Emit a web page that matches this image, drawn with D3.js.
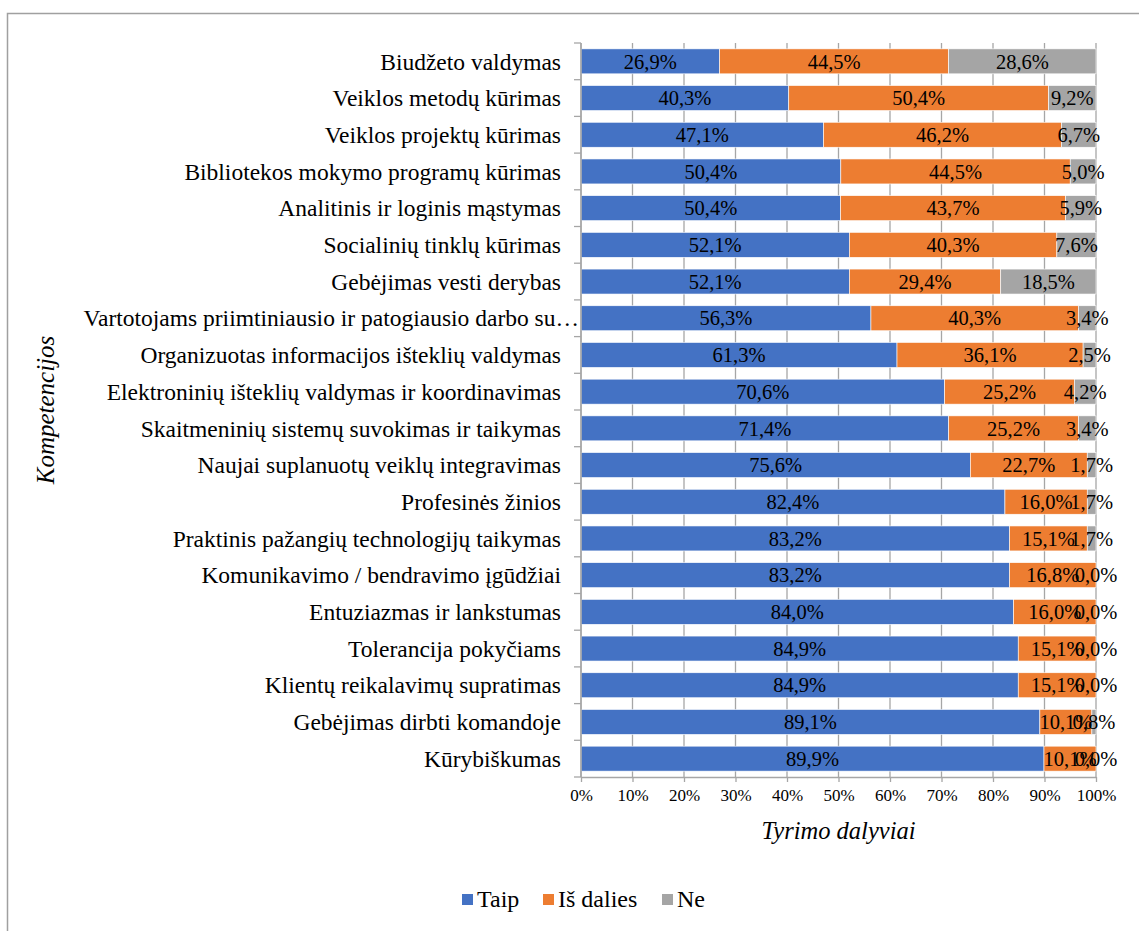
<!DOCTYPE html>
<html>
<head>
<meta charset="utf-8">
<script src="https://cdn.jsdelivr.net/npm/d3@7"></script>
<style>
  html, body { margin: 0; padding: 0; background: #fff; }
  svg { display: block; }
</style>
</head>
<body>
<svg id="chart" width="1139" height="931"></svg>
<script>
const FONT = "Liberation Serif, Tinos, Times New Roman, Times, Nimbus Roman, FreeSerif, Noto Serif, DejaVu Serif, serif";

// Competencies, top to bottom
const categories = [
  "Biudžeto valdymas",
  "Veiklos metodų kūrimas",
  "Veiklos projektų kūrimas",
  "Bibliotekos mokymo programų kūrimas",
  "Analitinis ir loginis mąstymas",
  "Socialinių tinklų kūrimas",
  "Gebėjimas vesti derybas",
  "Vartotojams priimtiniausio ir patogiausio darbo su…",
  "Organizuotas informacijos išteklių valdymas",
  "Elektroninių išteklių valdymas ir koordinavimas",
  "Skaitmeninių sistemų suvokimas ir taikymas",
  "Naujai suplanuotų veiklų integravimas",
  "Profesinės žinios",
  "Praktinis pažangių technologijų taikymas",
  "Komunikavimo / bendravimo įgūdžiai",
  "Entuziazmas ir lankstumas",
  "Tolerancija pokyčiams",
  "Klientų reikalavimų supratimas",
  "Gebėjimas dirbti komandoje",
  "Kūrybiškumas"
];

// Shares of respondents, %
const taip     = [26.9, 40.3, 47.1, 50.4, 50.4, 52.1, 52.1, 56.3, 61.3, 70.6, 71.4, 75.6, 82.4, 83.2, 83.2, 84.0, 84.9, 84.9, 89.1, 89.9];
const isDalies = [44.5, 50.4, 46.2, 44.5, 43.7, 40.3, 29.4, 40.3, 36.1, 25.2, 25.2, 22.7, 16.0, 15.1, 16.8, 16.0, 15.1, 15.1, 10.1, 10.1];
const ne       = [28.6,  9.2,  6.7,  5.0,  5.9,  7.6, 18.5,  3.4,  2.5,  4.2,  3.4,  1.7,  1.7,  1.7,  0.0,  0.0,  0.0,  0.0,  0.8,  0.0];

const seriesNames = ["Taip", "Iš dalies", "Ne"];
const seriesColors = ["#4472C4", "#ED7D31", "#A5A5A5"];
const xTickLabels = ["0%", "10%", "20%", "30%", "40%", "50%", "60%", "70%", "80%", "90%", "100%"];
const xTitle = "Tyrimo dalyviai";
const yTitle = "Kompetencijos";

const rows = categories.map((c, i) => ({ cat: c, "Taip": taip[i], "Iš dalies": isDalies[i], "Ne": ne[i] }));

const svg = d3.select("#chart").style("font-family", FONT);

// outer chart frame
svg.append("rect")
  .attr("x", 7.5).attr("y", 13.5)
  .attr("width", 1200).attr("height", 1000)
  .attr("fill", "none").attr("stroke", "#a0a0a0").attr("stroke-width", 1.5);

const plot = { left: 581, right: 1096, top: 43, bottom: 777 };

const x = d3.scaleLinear().domain([0, 1]).range([plot.left, plot.right]);
const y = d3.scaleBand().domain(categories).range([plot.top, plot.bottom])
  .paddingInner(0.32).paddingOuter(0.16);

// 100% stacked layout
const stack = d3.stack().keys(seriesNames).offset(d3.stackOffsetExpand);
const stacked = stack(rows);

// vertical gridlines
const tickVals = d3.range(0, 11).map(d => d / 10);
svg.append("g")
  .selectAll("line").data(tickVals).join("line")
  .attr("x1", d => x(d)).attr("x2", d => x(d))
  .attr("y1", plot.top).attr("y2", plot.bottom)
  .attr("stroke", "#a6a6a6").attr("stroke-width", 1.3);

// bars
const layers = svg.append("g").selectAll("g").data(stacked).join("g")
  .attr("fill", (d, i) => seriesColors[i]);

layers.selectAll("rect").data(d => d).join("rect")
  .attr("x", d => x(d[0]))
  .attr("width", d => Math.max(0, x(d[1]) - x(d[0])))
  .attr("y", d => y(d.data.cat))
  .attr("height", y.bandwidth())
  .attr("stroke", "#ffffff").attr("stroke-width", 0.6);

// value labels, centred in each segment
const labelG = svg.append("g");
stacked.forEach(layer => {
  labelG.selectAll(null).data(layer).join("text")
    .attr("x", d => (x(d[0]) + x(d[1])) / 2)
    .attr("y", d => y(d.data.cat) + y.bandwidth() / 2)
    .attr("dy", "0.35em")
    .attr("text-anchor", "middle")
    .style("font-family", FONT)
    .attr("font-size", 20.5)
    .attr("fill", "#000")
    .text(d => d.data[layer.key].toFixed(1).replace(".", ",") + "%");
});

// x axis
const xAxis = d3.axisBottom(x).tickValues(tickVals)
  .tickFormat((d, i) => xTickLabels[i]).tickSize(5).tickSizeOuter(0);
const gx = svg.append("g").attr("transform", `translate(0,${plot.bottom})`).call(xAxis);
gx.attr("font-family", null);
gx.select(".domain").attr("stroke", "#a6a6a6").attr("stroke-width", 1.5);
gx.selectAll(".tick line").attr("stroke", "#a6a6a6").attr("stroke-width", 1.3);
gx.selectAll(".tick text")
  .style("font-family", FONT)
  .attr("font-size", 17).attr("fill", "#000").attr("dy", "0.95em");

// y axis: line with ticks on band boundaries
svg.append("line")
  .attr("x1", plot.left).attr("x2", plot.left)
  .attr("y1", plot.top).attr("y2", plot.bottom)
  .attr("stroke", "#a6a6a6").attr("stroke-width", 1.5);
const bounds = categories.map(c => y(c) - y.step() * y.paddingOuter()).concat([plot.bottom]);
svg.append("g").selectAll("line").data(bounds).join("line")
  .attr("x1", plot.left - 7).attr("x2", plot.left)
  .attr("y1", d => d).attr("y2", d => d)
  .attr("stroke", "#a6a6a6").attr("stroke-width", 1.3);

// category labels (a truncated label runs up to the axis line)
svg.append("g").selectAll("text").data(categories).join("text")
  .attr("x", d => d.endsWith("…") ? plot.left - 2 : plot.left - 20)
  .attr("y", d => y(d) + y.bandwidth() / 2)
  .attr("dy", "0.35em")
  .attr("text-anchor", "end")
  .style("font-family", FONT)
  .attr("font-size", 23.5)
  .attr("fill", "#000")
  .text(d => d);

// axis titles
svg.append("text")
  .attr("x", (plot.left + plot.right) / 2).attr("y", 839)
  .attr("text-anchor", "middle").attr("font-style", "italic")
  .style("font-family", FONT)
  .attr("font-size", 24.5).attr("fill", "#000")
  .text(xTitle);

svg.append("text")
  .attr("transform", `translate(54,${(plot.top + plot.bottom) / 2}) rotate(-90)`)
  .attr("text-anchor", "middle").attr("font-style", "italic")
  .style("font-family", FONT)
  .attr("font-size", 25).attr("fill", "#000")
  .text(yTitle);

// legend
const legendItems = [
  { name: seriesNames[0], color: seriesColors[0], x: 462 },
  { name: seriesNames[1], color: seriesColors[1], x: 543 },
  { name: seriesNames[2], color: seriesColors[2], x: 662 }
];
const lg = svg.append("g");
legendItems.forEach(it => {
  lg.append("rect").attr("x", it.x).attr("y", 894).attr("width", 11).attr("height", 11).attr("fill", it.color);
  lg.append("text").attr("x", it.x + 15).attr("y", 899).attr("dy", "0.35em")
    .style("font-family", FONT)
    .attr("font-size", 24).attr("fill", "#000").text(it.name);
});
</script>
</body>
</html>
